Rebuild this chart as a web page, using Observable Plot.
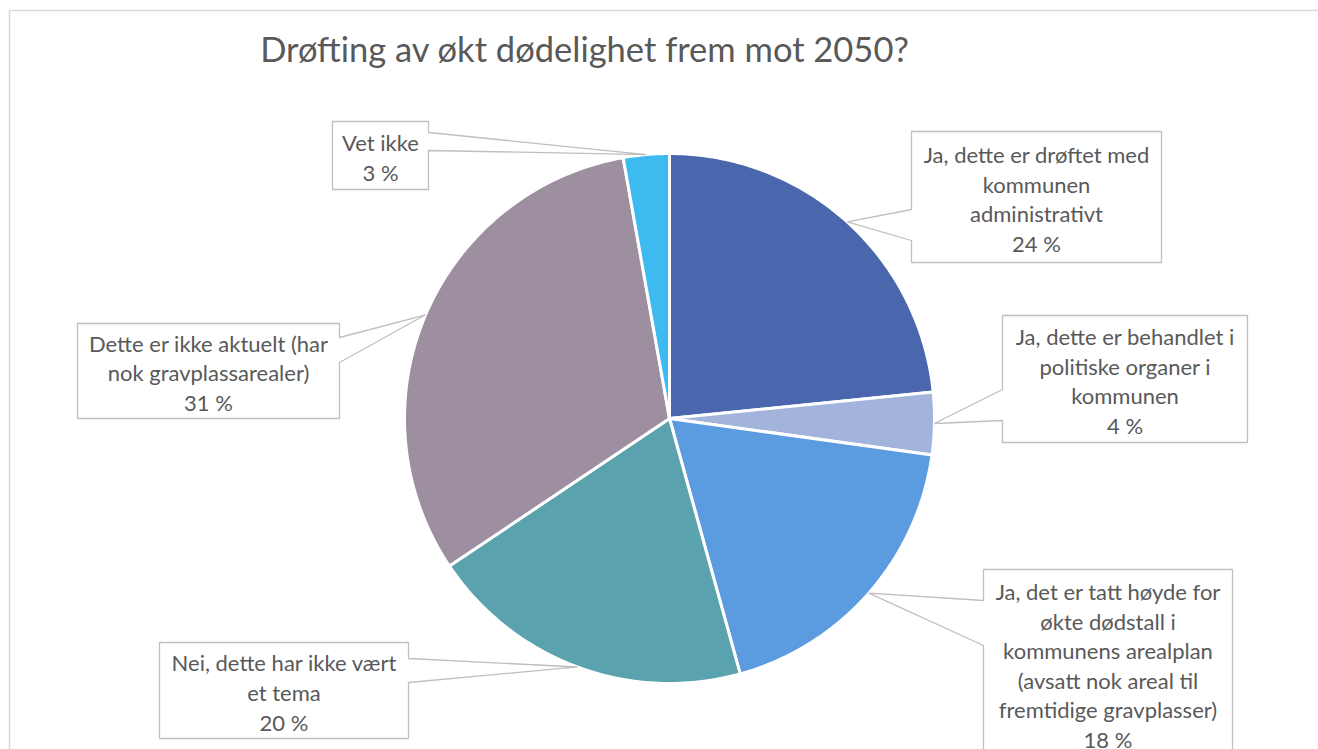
<!DOCTYPE html>
<html><head><meta charset="utf-8">
<script src="https://cdn.jsdelivr.net/npm/d3@7"></script>
<script src="https://cdn.jsdelivr.net/npm/@observablehq/plot@0.6"></script>
<style>html,body{margin:0;padding:0;background:#fff;overflow:hidden}</style>
</head><body><div id="chart"></div>
<script>
// ---- data ----
const title = "Drøfting av økt dødelighet frem mot 2050?";
const categories = [
  "Ja, dette er drøftet med\nkommunen\nadministrativt",
  "Ja, dette er behandlet i\npolitiske organer i\nkommunen",
  "Ja, det er tatt høyde for\nøkte dødstall i\nkommunens arealplan\n(avsatt nok areal til\nfremtidige gravplasser)",
  "Nei, dette har ikke vært\net tema",
  "Dette er ikke aktuelt (har\nnok gravplassarealer)",
  "Vet ikke"
];
const values = [23.4, 3.8, 18.5, 19.9, 31.6, 2.8];
const percentLabels = ["24 %", "4 %", "18 %", "20 %", "31 %", "3 %"];

// ---- styles / layout ----
const palette = ["#4a66ac", "#a2b4dc", "#5b9bdf", "#5aa3ae", "#9d8fa0", "#3dbbf0"];
const W = 1318, H = 749;
const cx = 669, cy = 418, R = 265;
// callout boxes: [x0, x1, y0, y1, side, wedgeY1, wedgeY2]
const boxes = [
  [911, 1161, 131, 262, "left", 209, 240],
  [1002, 1247, 315, 442, "left", 389, 420],
  [983, 1232, 569, 757, "left", 600, 645],
  [159, 408, 642, 738, "right", 658, 682],
  [77, 339, 323, 418, "right", 337, 362],
  [332, 428, 121, 189, "right", 132, 150]
];
const textColor = "#595959";
const font = "Lato, 'Open Sans', sans-serif";

// ---- geometry from data ----
const arcs = d3.pie().sort(null).startAngle(0).endAngle(2 * Math.PI)(values);
const pt = (a, r) => ({x: cx + r * Math.sin(a), y: cy - r * Math.cos(a)});
const slicePts = [];
arcs.forEach((a, i) => {
  const cat = categories[i];
  slicePts.push({cat, ...pt(0, 0)});
  const n = Math.max(8, Math.ceil((a.endAngle - a.startAngle) * 60));
  for (let k = 0; k <= n; k++) {
    const ang = a.startAngle + (a.endAngle - a.startAngle) * k / n;
    slicePts.push({cat, ...pt(ang, R)});
  }
  slicePts.push({cat, ...pt(0, 0)});
});

const calloutPts = [];
const labelRows = [];
arcs.forEach((a, i) => {
  const [x0, x1, y0, y1, side, w1, w2] = boxes[i];
  const tip = pt((a.startAngle + a.endAngle) / 2, R);
  let poly;
  if (side === "left") {
    poly = [[x0, y0], [x1, y0], [x1, y1 + 10], [x0, y1 + 10], [x0, w2], [tip.x, tip.y], [x0, w1], [x0, y0]];
    if (i !== 2) poly[2][1] = y1, poly[3][1] = y1;
  } else {
    poly = [[x0, y0], [x1, y0], [x1, w1], [tip.x, tip.y], [x1, w2], [x1, y1], [x0, y1], [x0, y0]];
  }
  poly.forEach(([x, y]) => calloutPts.push({id: i, x, y}));
  labelRows.push({x: (x0 + x1) / 2, y: (y0 + y1) / 2 + 1, text: categories[i] + "\n" + percentLabels[i]});
});

const chart = Plot.plot({
  width: W, height: H,
  margin: 0,
  x: {domain: [0, W], range: [0, W], axis: null},
  y: {domain: [0, H], range: [0, H], axis: null},
  color: {domain: categories, range: palette},
  style: {fontFamily: font, background: "#fff"},
  marks: [
    Plot.line([{x: 9, y: H + 5}, {x: 9, y: 10}, {x: W + 5, y: 10}], {x: "x", y: "y", stroke: "#d9d9d9", strokeWidth: 1.5}),
    Plot.line(slicePts, {x: "x", y: "y", z: "cat", fill: "cat", stroke: "#fff", strokeWidth: 3, strokeLinejoin: "round"}),
    Plot.line(calloutPts, {x: "x", y: "y", z: "id", fill: "#fff", stroke: "#bfbfbf", strokeWidth: 1.3, strokeLinejoin: "miter"}),
    Plot.text(labelRows, {x: "x", y: "y", text: "text", fill: textColor, fontSize: 22, lineHeight: 1.345, lineAnchor: "middle", textAnchor: "middle"}),
    Plot.text([title], {x: () => 584, y: () => 50, text: d => d, fill: textColor, fontSize: 34.5, lineAnchor: "middle", textAnchor: "middle"})
  ]
});
document.getElementById("chart").appendChild(chart);
</script>
</body></html>
